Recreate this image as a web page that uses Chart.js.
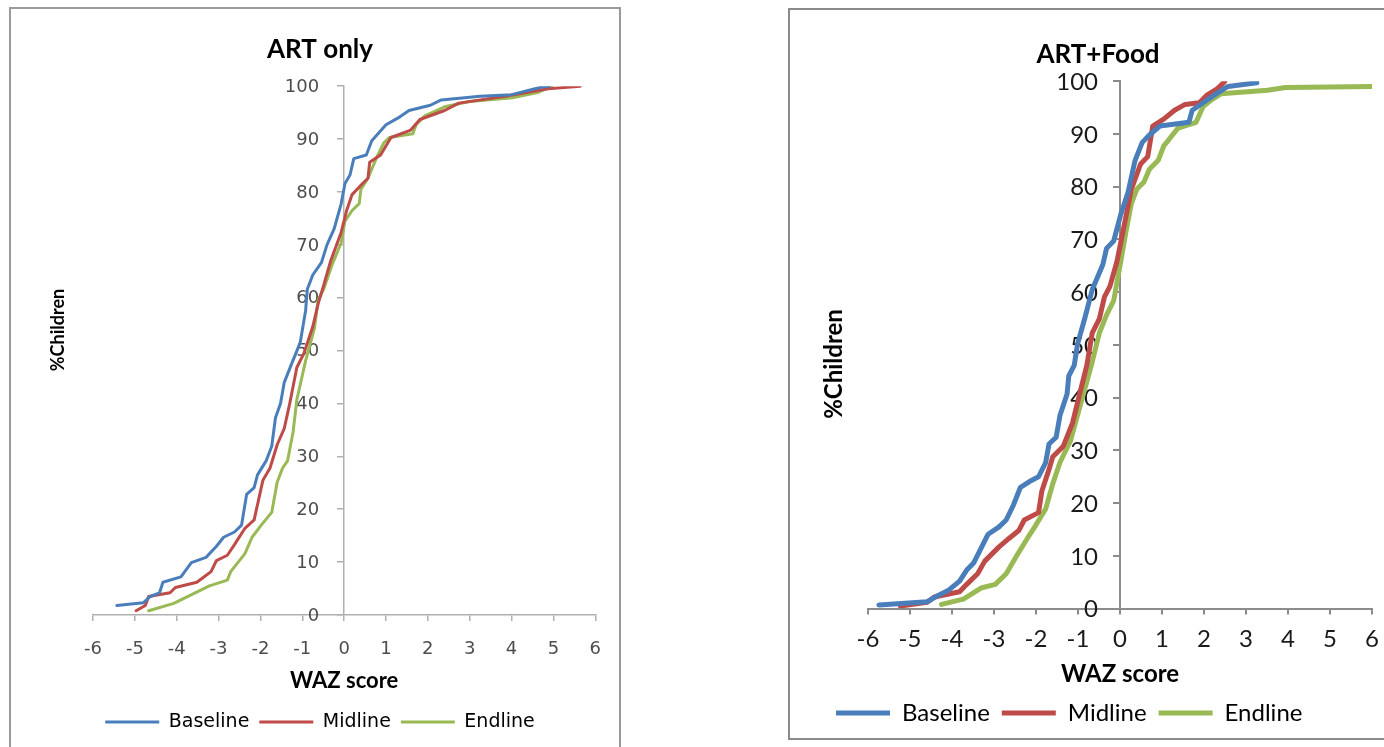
<!DOCTYPE html>
<html>
<head>
<meta charset="utf-8">
<script src="https://cdn.jsdelivr.net/npm/chart.js@4/dist/chart.umd.min.js"></script>
<style>
  body { margin: 0; background: #fff; overflow: hidden; width: 1384px; height: 747px; position: relative; }
  .box { position: absolute; border: 2px solid #9a9a9a; background: #fff; }
  .box canvas { position: absolute; left: 0; top: 0; }
  #boxLeft { left: 9px; top: 7px; width: 608px; height: 760px; }
  #boxRight { left: 788px; top: 8px; width: 606px; height: 728px; border-color: #8a8a8a; }
</style>
</head>
<body>
<div class="box" id="boxLeft"><canvas id="art-only" width="608" height="738"></canvas></div>
<div class="box" id="boxRight"><canvas id="art-food" width="600" height="728"></canvas></div>
<script>
/**
 * Data: WAZ score (x) against cumulative % children (y)
 */
const seriesNames = ["Baseline", "Midline", "Endline"];
const xTicks = { min: -6, max: 6, step: 1 };
const yTicks = { min: 0, max: 100, step: 10 };

// ART only
const artBaselineX = [-5.43, -4.8, -4.63, -4.41, -4.33, -3.9, -3.65, -3.3, -3.05, -2.88, -2.62, -2.45, -2.33, -2.15, -2.07, -1.86, -1.73, -1.64, -1.52, -1.43, -1.26, -1.05, -0.92, -0.88, -0.75, -0.54, -0.41, -0.24, -0.07, 0.02, 0.14, 0.23, 0.53, 0.66, 1.0, 1.29, 1.55, 2.06, 2.32, 3.25, 4.0, 4.7, 4.9];
const artBaselineY = [1.8, 2.3, 3.5, 4.2, 6.2, 7.2, 9.9, 10.9, 13, 14.7, 15.7, 17, 22.8, 24.1, 26.5, 29.2, 31.9, 37.3, 40, 44, 47.4, 51.5, 57.6, 61.6, 64.3, 66.7, 70, 73, 77.8, 81.6, 83.2, 86.3, 87, 89.7, 92.7, 94, 95.4, 96.4, 97.4, 98.1, 98.4, 99.8, 100];
const artMidlineX = [-4.97, -4.75, -4.67, -4.16, -4.03, -3.52, -3.35, -3.18, -3.05, -2.79, -2.62, -2.37, -2.15, -1.94, -1.77, -1.6, -1.43, -1.3, -1.13, -0.96, -0.75, -0.62, -0.49, -0.32, -0.07, 0.06, 0.19, 0.44, 0.57, 0.61, 0.87, 1.12, 1.59, 1.81, 2.4, 2.74, 3.85, 4.87, 5.64];
const artMidlineY = [0.8, 1.8, 3.5, 4.2, 5.2, 6.2, 7.2, 8.2, 10.3, 11.3, 13.3, 16.4, 18, 25.5, 27.8, 32.2, 35.3, 40, 46.8, 49.5, 54.5, 58.9, 62.3, 67, 72.4, 76.5, 79.5, 81.6, 82.6, 85.6, 87, 90.3, 91.7, 93.7, 95.4, 96.8, 98.1, 99.5, 100];
const artEndlineX = [-4.67, -4.07, -3.56, -3.22, -2.79, -2.71, -2.37, -2.2, -1.98, -1.73, -1.6, -1.47, -1.35, -1.22, -1.13, -0.92, -0.71, -0.62, -0.49, -0.28, -0.07, 0.02, 0.19, 0.36, 0.4, 0.57, 0.78, 0.95, 1.08, 1.64, 1.72, 1.93, 2.4, 3.0, 4.02, 4.62, 4.96];
const artEndlineY = [0.8, 2.2, 4.2, 5.5, 6.6, 8.2, 11.6, 14.7, 17, 19.4, 25.1, 27.8, 29.2, 34.6, 40.7, 48.1, 54.2, 59.6, 61.6, 66.4, 70.4, 74.5, 76.5, 77.8, 80.5, 82.6, 86.6, 89.3, 90.3, 91, 92.7, 94.4, 96.1, 97.1, 97.8, 98.8, 100];

// ART+Food
const foodBaselineX = [-5.74, -4.59, -4.33, -4.08, -3.82, -3.65, -3.48, -3.31, -3.14, -2.88, -2.71, -2.54, -2.37, -2.11, -1.94, -1.77, -1.69, -1.52, -1.43, -1.26, -1.22, -1.09, -1.01, -0.84, -0.66, -0.41, -0.32, -0.15, 0.02, 0.19, 0.36, 0.53, 0.7, 0.95, 1.64, 1.72, 2.23, 2.57, 3.26];
const foodBaselineY = [0.7, 1.3, 2.5, 3.5, 5.2, 7.3, 8.7, 11.4, 14.1, 15.5, 16.8, 19.6, 23, 24.3, 25, 27.7, 31.2, 32.5, 36.6, 40.7, 44.1, 46.1, 50.2, 55, 60.5, 65.2, 68.3, 69.7, 74.8, 78.9, 85, 88.4, 89.8, 91.5, 92.2, 94.5, 97.3, 99, 99.7];
const foodMidlineX = [-5.23, -4.59, -4.42, -3.82, -3.65, -3.39, -3.22, -2.88, -2.63, -2.41, -2.28, -1.94, -1.86, -1.69, -1.6, -1.35, -1.13, -0.96, -0.79, -0.66, -0.49, -0.37, -0.24, -0.07, 0.1, 0.27, 0.49, 0.66, 0.78, 1.04, 1.3, 1.55, 1.89, 2.06, 2.32, 2.49];
const foodMidlineY = [0.5, 1.2, 2.2, 3.2, 4.6, 6.6, 9, 11.7, 13.4, 14.8, 16.8, 18.2, 22.3, 26.4, 28.8, 30.8, 35.2, 40.7, 46.1, 52.3, 55, 59.1, 61.1, 65.9, 72.7, 79.5, 84.3, 85.7, 91.5, 92.8, 94.5, 95.6, 95.9, 97.3, 98.6, 99.9];
const foodEndlineX = [-4.25, -3.73, -3.31, -2.97, -2.71, -2.46, -2.2, -2.03, -1.77, -1.6, -1.43, -1.18, -0.92, -0.66, -0.49, -0.32, -0.15, 0.02, 0.14, 0.27, 0.4, 0.57, 0.7, 0.91, 1.04, 1.25, 1.38, 1.81, 1.98, 2.15, 2.4, 3.51, 3.94, 6.03];
const foodEndlineY = [0.8, 1.8, 3.9, 4.6, 6.6, 10, 13.4, 15.5, 18.9, 23.7, 27.7, 31.8, 39.3, 46.8, 52.3, 55.7, 58.4, 65.9, 71.4, 76.8, 79.5, 80.9, 83.3, 85, 87.7, 89.8, 91.1, 92.2, 95.2, 96.3, 97.6, 98.3, 98.8, 99];

const seriesColors = ["#4a7ebb", "#be4b48", "#98b954"];

const pairs = (xs, ys) => xs.map((x, i) => ({ x: x, y: ys[i] }));

// rotated y title drawn at a fixed spot, like the spreadsheet did
const sideTitle = {
  id: "sideTitle",
  afterDraw(chart, args, opts) {
    const ctx = chart.ctx;
    ctx.save();
    ctx.translate(opts.x, opts.y);
    ctx.rotate(-Math.PI / 2);
    ctx.font = opts.font;
    ctx.fillStyle = opts.color;
    ctx.textAlign = "center";
    ctx.textBaseline = "middle";
    ctx.fillText(opts.text, 0, 0);
    ctx.restore();
  },
};

// y labels sit left of the axis that crosses at x = 0 (Chart.js puts them flush on it)
const yTickLabels = {
  id: "yTickLabels",
  beforeDatasetsDraw(chart, args, opts) {
    const ctx = chart.ctx;
    const yScale = chart.scales.y;
    const axisX = chart.scales.x.getPixelForValue(0);
    ctx.save();
    ctx.font = opts.font;
    ctx.fillStyle = opts.color;
    ctx.textAlign = "right";
    ctx.textBaseline = "middle";
    yScale.ticks.forEach((t) => {
      ctx.fillText(String(t.value), axisX - opts.gap, yScale.getPixelForValue(t.value) + opts.shift);
    });
    ctx.restore();
  },
};

function makeChart(canvasId, s) {
  const datasets = s.series.map((xy, i) => ({
    label: seriesNames[i],
    data: pairs(xy[0], xy[1]),
    showLine: true,
    borderColor: seriesColors[i],
    backgroundColor: seriesColors[i],
    borderWidth: s.lineWidth,
    borderCapStyle: "round",
    borderJoinStyle: "round",
    pointRadius: 0,
    tension: 0,
    pointStyle: "line",
  }));

  return new Chart(document.getElementById(canvasId), {
    type: "scatter",
    data: { datasets: datasets },
    plugins: [sideTitle, yTickLabels],
    options: {
      responsive: false,
      animation: false,
      layout: { padding: s.padding },
      scales: {
        x: {
          type: "linear",
          position: "bottom",
          min: xTicks.min,
          max: xTicks.max,
          grid: { drawOnChartArea: false, drawTicks: true, tickLength: 6, color: s.axisColor, lineWidth: s.axisWidth },
          border: { color: s.axisColor, width: s.axisWidth },
          ticks: { stepSize: xTicks.step, padding: s.xTickPad, color: s.tickColor, font: s.tickFont, maxRotation: 0, autoSkip: false },
          title: { display: true, text: "WAZ score", color: "#000", font: s.axisTitleFont, padding: s.xTitlePad },
        },
        y: {
          type: "linear",
          position: { x: 0 },
          min: yTicks.min,
          max: yTicks.max,
          grid: { drawOnChartArea: false, drawTicks: true, tickLength: 6, color: s.axisColor, lineWidth: s.axisWidth },
          border: { color: s.axisColor, width: s.axisWidth },
          ticks: { stepSize: yTicks.step, display: false },
        },
        // empty left axis that only holds room for the y title
        yRoom: {
          type: "linear",
          position: "left",
          grid: { display: false, drawTicks: false },
          border: { display: false },
          ticks: { display: false },
          afterFit: (scale) => { scale.width = s.roomWidth; },
        },
      },
      plugins: {
        title: { display: true, text: s.title, color: "#000", font: s.titleFont, padding: s.titlePad },
        legend: {
          position: "bottom",
          align: s.legendAlign,
          labels: { usePointStyle: true, pointStyleWidth: s.legendLine, color: "#000", font: s.legendFont, padding: s.legendPad },
        },
        tooltip: { enabled: false },
        sideTitle: { text: "%Children", x: s.yTitleX, y: s.yTitleY, font: s.yTitleFont, color: "#000" },
        yTickLabels: { font: s.yTickFont, color: s.tickColor, gap: s.yTickGap, shift: 1 },
      },
    },
  });
}

makeChart("art-only", {
  title: "ART only",
  series: [[artBaselineX, artBaselineY], [artMidlineX, artMidlineY], [artEndlineX, artEndlineY]],
  lineWidth: 3,
  padding: { top: 10, left: 32, right: 22, bottom: 5.5 },
  roomWidth: 50,
  axisColor: "#b0b0b0",
  axisWidth: 1.5,
  tickColor: "#4d4d4d",
  tickFont: { family: "DejaVu Sans", size: 18 },
  yTickFont: "18px 'DejaVu Sans'",
  yTickGap: 25,
  xTickPad: 18,
  axisTitleFont: { family: "Lato", size: 22, weight: "bold" },
  xTitlePad: { top: -10.8, bottom: 8.3 },
  titleFont: { family: "Lato", size: 26, weight: "bold" },
  titlePad: { top: 15, bottom: 21 },
  legendAlign: "center",
  legendLine: 54,
  legendFont: { family: "DejaVu Sans", size: 19 },
  legendPad: 10,
  yTitleX: 47,
  yTitleY: 321,
  yTitleFont: "bold 18px Lato",
});

makeChart("art-food", {
  title: "ART+Food",
  series: [[foodBaselineX, foodBaselineY], [foodMidlineX, foodMidlineY], [foodEndlineX, foodEndlineY]],
  lineWidth: 5,
  padding: { top: 10, left: 34, right: 18, bottom: 3 },
  roomWidth: 44,
  axisColor: "#8c8c8c",
  axisWidth: 2,
  tickColor: "#1a1a1a",
  tickFont: { family: "Lato", size: 24 },
  yTickFont: "24px Lato",
  yTickGap: 22,
  xTickPad: 10,
  axisTitleFont: { family: "Lato", size: 24, weight: "bold" },
  xTitlePad: { top: -3.2, bottom: 0 },
  titleFont: { family: "Lato", size: 26, weight: "bold" },
  titlePad: { top: 19, bottom: 11 },
  legendAlign: "start",
  legendLine: 54,
  legendFont: { family: "Lato", size: 24 },
  legendPad: 12,
  yTitleX: 44,
  yTitleY: 354,
  yTitleFont: "bold 24px Lato",
});
</script>
</body>
</html>
